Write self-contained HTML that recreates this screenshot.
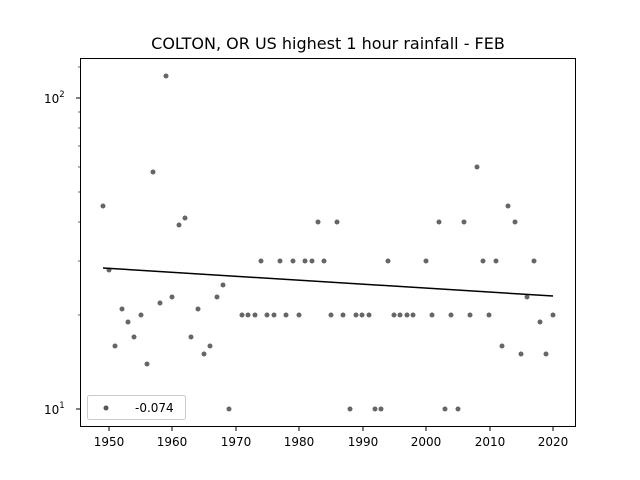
<!DOCTYPE html>
<html><head><meta charset="utf-8"><style>body{margin:0;background:#fff}svg{display:block}text{font-family:"DejaVu Sans","Liberation Sans",sans-serif;fill:#000}</style></head><body>
<svg width="640" height="480" viewBox="0 0 640 480" xmlns="http://www.w3.org/2000/svg">
<rect width="640" height="480" fill="#fff"/>
<text x="328" y="49" font-size="16" text-anchor="middle">COLTON, OR US highest 1 hour rainfall - FEB</text>
<g stroke="#000" stroke-width="1">
<line x1="109" y1="427" x2="109" y2="431"/><line x1="172" y1="427" x2="172" y2="431"/><line x1="236" y1="427" x2="236" y2="431"/><line x1="299" y1="427" x2="299" y2="431"/><line x1="363" y1="427" x2="363" y2="431"/><line x1="426" y1="427" x2="426" y2="431"/><line x1="490" y1="427" x2="490" y2="431"/><line x1="553" y1="427" x2="553" y2="431"/>
<line x1="76" y1="98" x2="80" y2="98"/><line x1="76" y1="409" x2="80" y2="409"/>
</g>
<g stroke="#000" stroke-width="0.6">
<line x1="78" y1="315" x2="80" y2="315"/><line x1="78" y1="261" x2="80" y2="261"/><line x1="78" y1="222" x2="80" y2="222"/><line x1="78" y1="192" x2="80" y2="192"/><line x1="78" y1="167" x2="80" y2="167"/><line x1="78" y1="146" x2="80" y2="146"/><line x1="78" y1="128" x2="80" y2="128"/><line x1="78" y1="112" x2="80" y2="112"/><line x1="78" y1="67" x2="80" y2="67"/>
</g>
<g font-size="12" text-anchor="middle">
<text x="109" y="446">1950</text><text x="172" y="446">1960</text><text x="236" y="446">1970</text><text x="299" y="446">1980</text><text x="363" y="446">1990</text><text x="426" y="446">2000</text><text x="490" y="446">2010</text><text x="553" y="446">2020</text>
</g>
<text x="44" y="103" font-size="12">10<tspan dy="-6" font-size="8.5">2</tspan></text>
<text x="44" y="414" font-size="12">10<tspan dy="-6" font-size="8.5">1</tspan></text>
<g fill="#555" fill-opacity="0.9">
<circle cx="103" cy="206" r="2.5"/><circle cx="109" cy="270" r="2.5"/><circle cx="115" cy="346" r="2.5"/><circle cx="122" cy="309" r="2.5"/><circle cx="128" cy="322" r="2.5"/><circle cx="134" cy="337" r="2.5"/><circle cx="141" cy="315" r="2.5"/><circle cx="147" cy="364" r="2.5"/><circle cx="153" cy="172" r="2.5"/><circle cx="160" cy="303" r="2.5"/><circle cx="166" cy="76" r="2.5"/><circle cx="172" cy="297" r="2.5"/><circle cx="179" cy="225" r="2.5"/><circle cx="185" cy="218" r="2.5"/><circle cx="191" cy="337" r="2.5"/><circle cx="198" cy="309" r="2.5"/><circle cx="204" cy="354" r="2.5"/><circle cx="210" cy="346" r="2.5"/><circle cx="217" cy="297" r="2.5"/><circle cx="223" cy="285" r="2.5"/><circle cx="229" cy="409" r="2.5"/><circle cx="242" cy="315" r="2.5"/><circle cx="248" cy="315" r="2.5"/><circle cx="255" cy="315" r="2.5"/><circle cx="261" cy="261" r="2.5"/><circle cx="267" cy="315" r="2.5"/><circle cx="274" cy="315" r="2.5"/><circle cx="280" cy="261" r="2.5"/><circle cx="286" cy="315" r="2.5"/><circle cx="293" cy="261" r="2.5"/><circle cx="299" cy="315" r="2.5"/><circle cx="305" cy="261" r="2.5"/><circle cx="312" cy="261" r="2.5"/><circle cx="318" cy="222" r="2.5"/><circle cx="324" cy="261" r="2.5"/><circle cx="331" cy="315" r="2.5"/><circle cx="337" cy="222" r="2.5"/><circle cx="343" cy="315" r="2.5"/><circle cx="350" cy="409" r="2.5"/><circle cx="356" cy="315" r="2.5"/><circle cx="362" cy="315" r="2.5"/><circle cx="369" cy="315" r="2.5"/><circle cx="375" cy="409" r="2.5"/><circle cx="381" cy="409" r="2.5"/><circle cx="388" cy="261" r="2.5"/><circle cx="394" cy="315" r="2.5"/><circle cx="400" cy="315" r="2.5"/><circle cx="407" cy="315" r="2.5"/><circle cx="413" cy="315" r="2.5"/><circle cx="426" cy="261" r="2.5"/><circle cx="432" cy="315" r="2.5"/><circle cx="439" cy="222" r="2.5"/><circle cx="445" cy="409" r="2.5"/><circle cx="451" cy="315" r="2.5"/><circle cx="458" cy="409" r="2.5"/><circle cx="464" cy="222" r="2.5"/><circle cx="470" cy="315" r="2.5"/><circle cx="477" cy="167" r="2.5"/><circle cx="483" cy="261" r="2.5"/><circle cx="489" cy="315" r="2.5"/><circle cx="496" cy="261" r="2.5"/><circle cx="502" cy="346" r="2.5"/><circle cx="508" cy="206" r="2.5"/><circle cx="515" cy="222" r="2.5"/><circle cx="521" cy="354" r="2.5"/><circle cx="527" cy="297" r="2.5"/><circle cx="534" cy="261" r="2.5"/><circle cx="540" cy="322" r="2.5"/><circle cx="546" cy="354" r="2.5"/><circle cx="553" cy="315" r="2.5"/>
</g>
<line x1="103" y1="268" x2="553" y2="296" stroke="#000" stroke-width="1.5"/>
<rect x="80.5" y="58.5" width="495" height="368" fill="none" stroke="#000" stroke-width="1"/>
<rect x="87.5" y="395.5" width="98" height="24" rx="2" fill="#fff" fill-opacity="0.8" stroke="#ccc"/>
<circle cx="106" cy="408" r="2.5" fill="#555"/>
<text x="135" y="412" font-size="12">-0.074</text>
</svg>
</body></html>
